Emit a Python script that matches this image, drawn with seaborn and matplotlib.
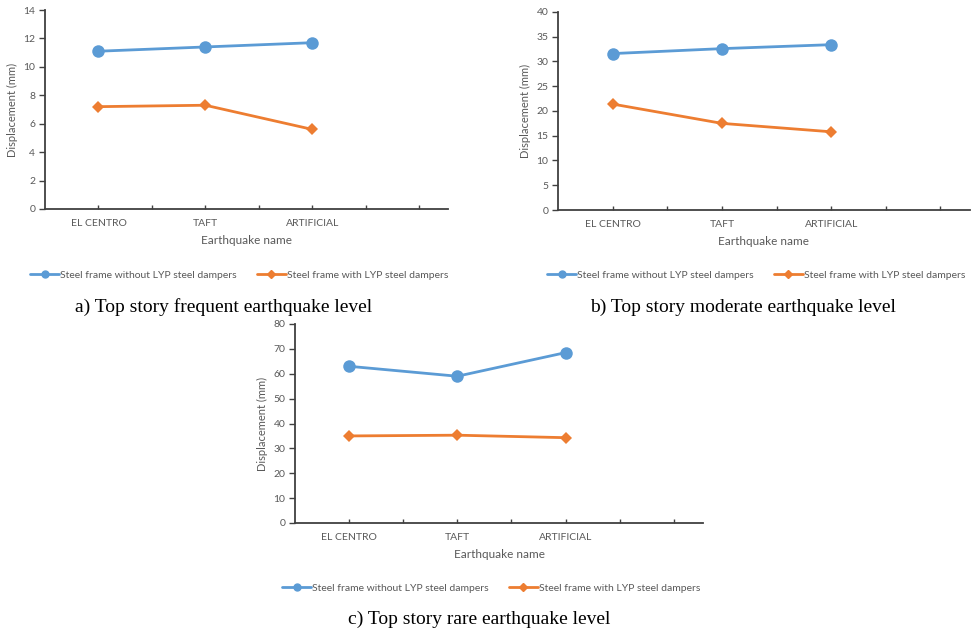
import matplotlib
matplotlib.use("Agg")
import matplotlib.pyplot as plt
import seaborn as sns
import pandas as pd
from matplotlib.lines import Line2D

sns.set_style("white")
plt.rcParams['font.family'] = ['Lato', 'DejaVu Sans']

quakes = ["EL CENTRO", "TAFT", "ARTIFICIAL"]
series_names = ["Steel frame without LYP steel dampers", "Steel frame with LYP steel dampers"]

frequent_without = [11.1, 11.4, 11.7]
frequent_with = [7.2, 7.3, 5.6]
moderate_without = [31.6, 32.6, 33.4]
moderate_with = [21.4, 17.5, 15.8]
rare_without = [63.0, 59.0, 68.5]
rare_with = [35.0, 35.3, 34.3]

captions = ["a) Top story frequent earthquake level",
            "b) Top story moderate earthquake level",
            "c) Top story rare earthquake level"]
ylims = [(0, 14, 2), (0, 40, 5), (0, 80, 10)]

BLUE = "#5B9BD5"
ORANGE = "#ED7D31"
GREY = "#595959"

W, H = 973, 631
fig = plt.figure(figsize=(W / 100, H / 100), dpi=100)

def rect(l, r, t, b):
    return [l / W, 1 - b / H, (r - l) / W, (b - t) / H]

panels = [
    dict(rect=rect(45, 448, 10, 209), without=frequent_without, with_=frequent_with,
         leg=(0.246, 1 - 275 / H), cap=(0.230, 1 - 307 / H)),
    dict(rect=rect(558, 970, 12, 210), without=moderate_without, with_=moderate_with,
         leg=(0.777, 1 - 275 / H), cap=(0.764, 1 - 307 / H)),
    dict(rect=rect(295, 703, 324, 523), without=rare_without, with_=rare_with,
         leg=(0.505, 1 - 588 / H), cap=(0.492, 1 - 619 / H)),
]

for i, p in enumerate(panels):
    ax = fig.add_axes(p["rect"])
    df = pd.DataFrame({
        "pos": list(range(len(quakes))) * 2,
        "value": p["without"] + p["with_"],
        "series": [series_names[0]] * 3 + [series_names[1]] * 3,
    })
    d0 = df[df.series == series_names[0]]
    d1 = df[df.series == series_names[1]]
    sns.lineplot(data=d0, x="pos", y="value", ax=ax, color=BLUE, marker="o",
                 markersize=9, markeredgewidth=0, linewidth=2, legend=False)
    sns.lineplot(data=d1, x="pos", y="value", ax=ax, color=ORANGE, marker="D",
                 markersize=6, markeredgewidth=0, linewidth=2, legend=False)
    lo, hi, st = ylims[i]
    ax.set_yticks(range(lo, hi + 1, st))
    ax.set_ylim(lo, hi)
    ax.set_xticks([0, 0.5, 1, 1.5, 2, 2.5, 3])
    ax.set_xticklabels(["EL CENTRO", "", "TAFT", "", "ARTIFICIAL", "", ""])
    ax.set_xlim(-0.5, 3.27)
    ax.tick_params(axis="x", bottom=True, direction="in", length=3, width=1, colors="#404040",
                   labelcolor=GREY, labelsize=7.5, pad=7)
    ax.tick_params(axis="y", left=True, direction="out", length=4, width=1, colors="#404040",
                   labelcolor=GREY, labelsize=7.5, pad=3)
    for s in ["top", "right"]:
        ax.spines[s].set_visible(False)
    for s in ["left", "bottom"]:
        ax.spines[s].set_color("#404040")
        ax.spines[s].set_linewidth(1.3)
    ax.set_xlabel("Earthquake name", color=GREY, fontsize=8.5, labelpad=5)
    ax.set_ylabel("Displacement (mm)", color=GREY, fontsize=8, labelpad=4)
    handles = [Line2D([], [], color=BLUE, marker="o", markersize=5, linewidth=2),
               Line2D([], [], color=ORANGE, marker="D", markersize=4, linewidth=2)]
    fig.legend(handles, series_names, loc="center", bbox_to_anchor=p["leg"], ncol=2,
               frameon=False, fontsize=7.5, labelcolor=GREY, handlelength=2.8,
               handletextpad=0.1, columnspacing=1.9)
    fig.text(p["cap"][0], p["cap"][1], captions[i], ha="center", va="center",
             fontsize=14, family="Liberation Serif", color="black")

fig.savefig("out.png", dpi=100)
